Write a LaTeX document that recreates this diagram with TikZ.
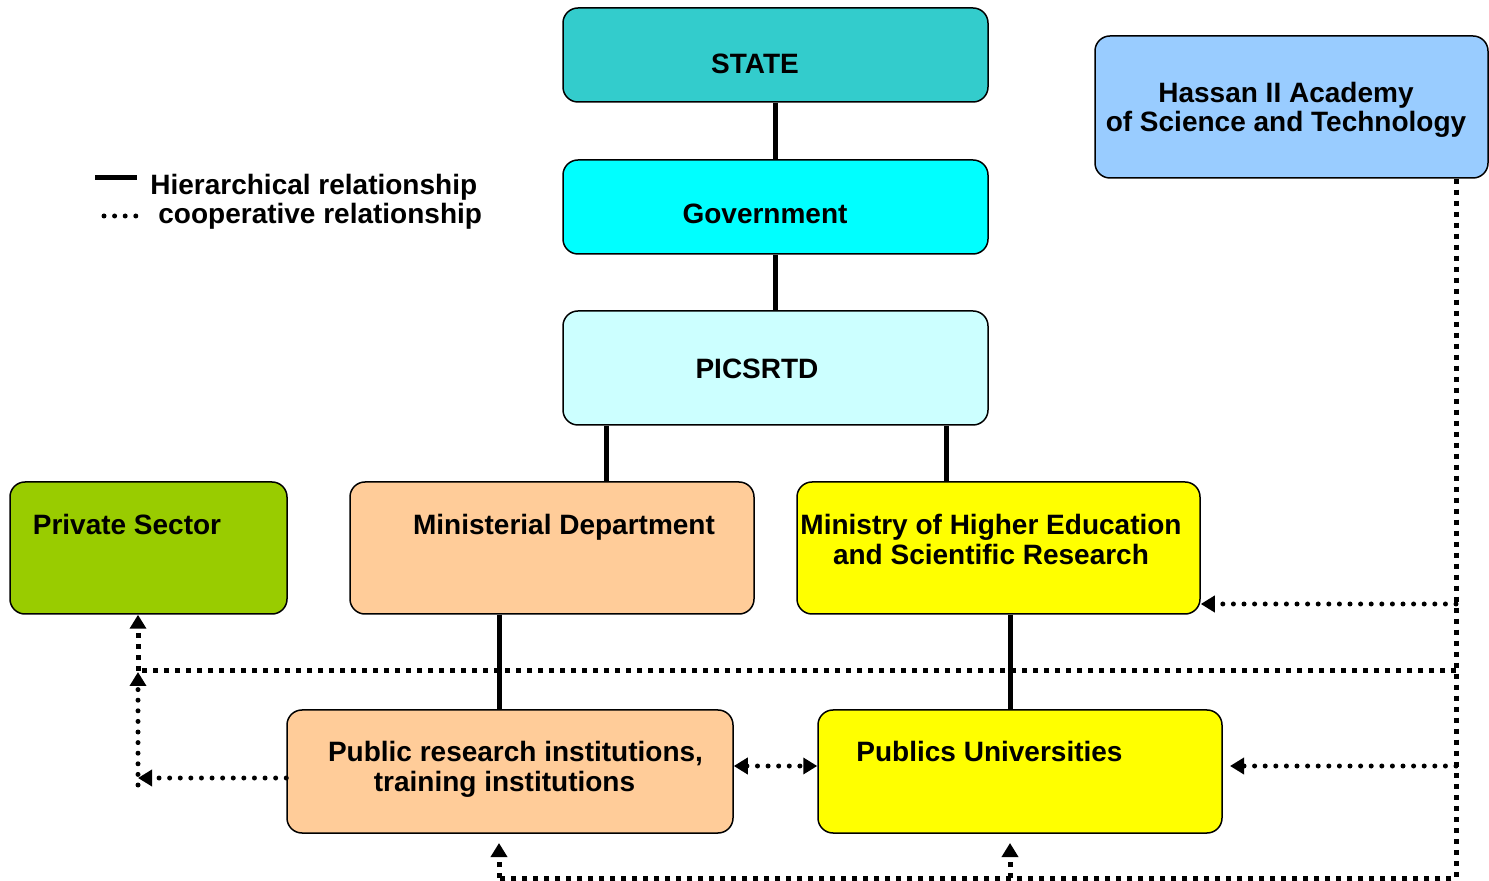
\documentclass[tikz,border=0pt]{standalone}
\usepackage{fontspec}
\setmainfont{Liberation Sans}
\usetikzlibrary{arrows.meta}
\definecolor{cstate}{HTML}{33CCCC}
\definecolor{cgov}{HTML}{00FFFF}
\definecolor{cpic}{HTML}{CCFFFF}
\definecolor{chas}{HTML}{99CCFF}
\definecolor{cpriv}{HTML}{99CC00}
\definecolor{corange}{HTML}{FFCC99}
\definecolor{cyel}{HTML}{FFFF00}
\tikzset{
  box/.style={draw=black, line width=0.75pt, rounded corners=7.5pt, inner sep=0pt},
  txt/.style={font=\fontsize{14pt}{14.8pt}\selectfont\bfseries, inner sep=0pt, align=center},
  hier/.style={line width=2.5pt},
  sq/.style={line width=2.5pt, dash pattern=on 2.5pt off 3pt},
  rd/.style={line width=2.5pt, line cap=round, dash pattern=on 0pt off 5.3pt},
  arr/.style={-{Triangle[length=7pt,width=8pt]}},
  darr/.style={{Triangle[length=7pt,width=8pt]}-{Triangle[length=7pt,width=8pt]}}
}
\begin{document}
\begin{tikzpicture}[x=0.5pt,y=-0.5pt]
\useasboundingbox (0,0) rectangle (1489,881);
\clip (0,0) rectangle (1489,881);
% boxes
\node[box, fill=cstate, minimum width=212.5pt, minimum height=47pt] (state) at (775.5,55) {};
\node[box, fill=cgov, minimum width=212.5pt, minimum height=47pt] (gov) at (775.5,207) {};
\node[box, fill=cpic, minimum width=212.5pt, minimum height=57pt] (pic) at (775.5,368) {};
\node[box, fill=chas, minimum width=196.5pt, minimum height=71pt] (has) at (1291.5,107) {};
\node[box, fill=cpriv, minimum width=138.5pt, minimum height=66pt] (priv) at (148.5,548) {};
\node[box, fill=corange, minimum width=202pt, minimum height=66pt] (mdep) at (552,548) {};
\node[box, fill=cyel, minimum width=201.5pt, minimum height=66pt] (mhe) at (998.5,548) {};
\node[box, fill=corange, minimum width=223pt, minimum height=61.5pt] (pri) at (510,771.5) {};
\node[box, fill=cyel, minimum width=202pt, minimum height=61.5pt] (uni) at (1020,771.5) {};
% texts
\node[txt] (tstate) at (755,64) {STATE};
\node[txt] (tgov) at (765,214) {Government};
\node[txt] (tpic) at (757,369) {PICSRTD};
\node[txt] (thas) at (1286,110) {Hassan II Academy\\of Science and Technology};
\node[txt] (tpriv) at (127,524) {Private Sector};
\node[txt] (tmdep) at (564,527) {Ministerial Department};
\node[txt] (tmhe) at (991,539.5) {Ministry of Higher Education\\and Scientific Research};
\node[txt] (tpri1) at (515.5,754) {Public research institutions,};
\node[txt] (tpri2) at (504.5,784) {training institutions};
\node[txt] (tuni) at (989.5,751) {Publics Universities};
% legend
\coordinate (l1a) at (95,178);
\coordinate (l1b) at (137,178);
\coordinate (l2a) at (104,216);
\coordinate (l2b) at (139,216);
\draw[hier] (l1a) -- (l1b);
\draw[rd] (l2a) -- (l2b);
\node[txt, anchor=west] (leg1) at (150,187) {Hierarchical relationship};
\node[txt, anchor=west] (leg2) at (158,216) {cooperative relationship};
% hierarchical connectors
\coordinate (xa) at (606,0);
\coordinate (xb) at (946,0);
\coordinate (xc) at (499,0);
\coordinate (xd) at (1010,0);
\draw[hier] (state.south) -- (gov.north);
\draw[hier] (gov.south) -- (pic.north);
\draw[hier] (pic.south -| xa) -- (mdep.north -| xa);
\draw[hier] (pic.south -| xb) -- (mhe.north -| xb);
\draw[hier] (mdep.south -| xc) -- (pri.north -| xc);
\draw[hier] (mhe.south -| xd) -- (uni.north -| xd);
% cooperative connectors
\coordinate (vx) at (1456,0);
\coordinate (bot) at (1456,878);
\coordinate (mid) at (1456,671);
\coordinate (pl) at (138,671);
\coordinate (plb) at (138,785);
\coordinate (plm) at (138,778);
\coordinate (mheR) at (1456,604);
\coordinate (uniR) at (1456,766);
\coordinate (uniT) at (1230,766);
\coordinate (priB) at (499,878);
\coordinate (uniB) at (1010,878);
\coordinate (priA) at (499,843);
\coordinate (uniA) at (1010,843);
\coordinate (pdA) at (138,672);
\draw[sq] (has.south -| vx) -- (bot) -- (priB);
\draw[sq, arr] (priB) -- (priA);
\draw[sq, arr] (uniB) -- (uniA);
\draw[sq] (mid) -- (pl);
\draw[sq, arr] (pl) -- (priv.south -| pl);
\draw[rd, arr] (mheR) -- (mhe.east |- mheR);
\draw[rd, arr] (uniR) -- (uniT);
\draw[rd, arr] (pri.west |- plm) -- (plm);
\draw[rd, arr] (plb) -- (pdA);
\draw[rd, darr] (pri.east |- uniR) -- (uni.west |- uniR);
\end{tikzpicture}
\end{document}
